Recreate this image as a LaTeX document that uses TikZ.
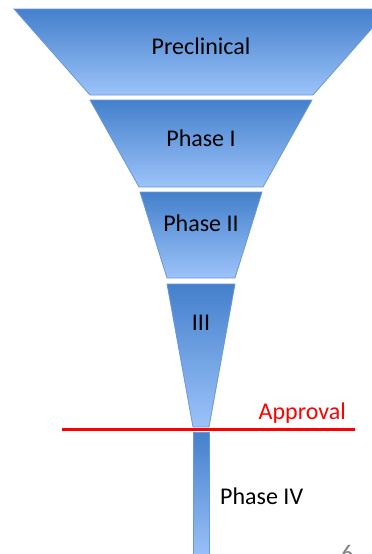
\documentclass[tikz,border=0pt]{standalone}
\usepackage{fontspec}
\setmainfont{Carlito}
\usepackage{xcolor}
\definecolor{stagetop}{HTML}{4480CC}
\definecolor{stagebot}{HTML}{9CC3F9}
\definecolor{stageline}{HTML}{6A98D8}
\tikzset{
  stage/.style={draw=stageline,line width=0.8pt,top color=stagetop,bottom color=stagebot},
  lbl/.style={font=\fontsize{24}{29}\selectfont,inner sep=0pt}
}

\begin{document}
\begin{tikzpicture}[x=1pt,y=-1pt]
  \useasboundingbox (0,0) rectangle (372,554);

  % funnel stages
  \draw[stage] (14,9) -- (389,9) -- (313,95) -- (90,95) -- cycle;
  \node [lbl] (pre) at (201,46) {Preclinical};

  \draw[stage] (90,100) -- (312,100) -- (263,187) -- (139,187) -- cycle;
  \node [lbl] (ph1) at (201,138) {Phase I};

  \draw[stage] (140,192) -- (262,192) -- (235,278) -- (167,278) -- cycle;
  \node [lbl] (ph2) at (201,223) {Phase II};

  \draw[stage] (167,284) -- (235,284) -- (209,427) -- (193,427) -- cycle;
  \node [lbl] (ph3) at (201,323) {III};

  % approval line
  \draw[red,line width=3pt] (62,429) -- (355,429);
  \node [lbl,red,anchor=east] (appr) at (346,413) {Approval};

  % post-market bar
  \draw[stage] (193,432) rectangle (209,560);
  \node [lbl,anchor=west] (ph4) at (220,496) {Phase IV};

  \node [lbl,gray,anchor=north west] (pg) at (341,545) {6};
\end{tikzpicture}
\end{document}
